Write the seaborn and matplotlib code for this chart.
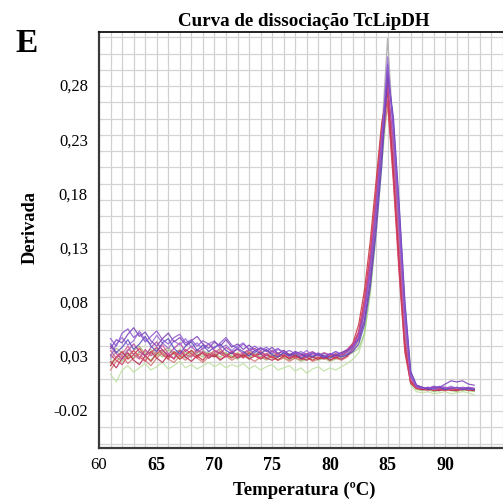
import numpy as np
import pandas as pd
import matplotlib
matplotlib.use("Agg")
import matplotlib.pyplot as plt
import seaborn as sns

# ---------------- data ----------------
# temperatures: 61.0 .. 92.5 in 0.5 steps (64 points)
temperature = [61.0, 61.5, 62.0, 62.5, 63.0, 63.5, 64.0, 64.5, 65.0, 65.5,
               66.0, 66.5, 67.0, 67.5, 68.0, 68.5, 69.0, 69.5, 70.0, 70.5,
               71.0, 71.5, 72.0, 72.5, 73.0, 73.5, 74.0, 74.5, 75.0, 75.5,
               76.0, 76.5, 77.0, 77.5, 78.0, 78.5, 79.0, 79.5, 80.0, 80.5,
               81.0, 81.5, 82.0, 82.5, 83.0, 83.5, 84.0, 84.5, 85.0, 85.5,
               86.0, 86.5, 87.0, 87.5, 88.0, 88.5, 89.0, 89.5, 90.0, 90.5,
               91.0, 91.5, 92.0, 92.5]

curve_purple1 = [0.045, 0.038, 0.050, 0.054, 0.046, 0.050, 0.042, 0.047, 0.052, 0.044,
                 0.040, 0.046, 0.049, 0.041, 0.044, 0.038, 0.043, 0.040, 0.036, 0.041,
                 0.046, 0.039, 0.036, 0.040, 0.035, 0.038, 0.034, 0.037, 0.033, 0.036,
                 0.032, 0.034, 0.031, 0.033, 0.030, 0.032, 0.029, 0.031, 0.030, 0.033,
                 0.031, 0.033, 0.037, 0.046, 0.070, 0.110, 0.165, 0.230, 0.298, 0.240,
                 0.160, 0.070, 0.012, 0.001, -0.001, 0.000, -0.001, 0.001, 0.000, -0.001,
                 0.000, -0.001, 0.000, -0.001]
curve_purple2 = [0.036, 0.044, 0.041, 0.049, 0.055, 0.047, 0.051, 0.043, 0.038, 0.045,
                 0.050, 0.042, 0.046, 0.039, 0.043, 0.047, 0.040, 0.036, 0.042, 0.038,
                 0.044, 0.037, 0.040, 0.035, 0.039, 0.034, 0.036, 0.033, 0.037, 0.031,
                 0.034, 0.030, 0.033, 0.031, 0.028, 0.032, 0.030, 0.027, 0.031, 0.029,
                 0.032, 0.034, 0.038, 0.044, 0.062, 0.098, 0.150, 0.215, 0.292, 0.245,
                 0.165, 0.075, 0.014, 0.002, 0.000, -0.001, 0.001, 0.000, 0.003, 0.006,
                 0.005, 0.006, 0.003, 0.002]
curve_violet = [0.028, 0.040, 0.046, 0.039, 0.043, 0.052, 0.044, 0.040, 0.048, 0.041,
                0.036, 0.043, 0.039, 0.045, 0.037, 0.041, 0.035, 0.040, 0.043, 0.036,
                0.039, 0.034, 0.038, 0.041, 0.035, 0.032, 0.037, 0.034, 0.031, 0.035,
                0.032, 0.029, 0.033, 0.030, 0.034, 0.029, 0.032, 0.028, 0.030, 0.033,
                0.029, 0.031, 0.035, 0.045, 0.068, 0.105, 0.160, 0.225, 0.305, 0.235,
                0.150, 0.060, 0.010, 0.001, -0.001, 0.000, -0.002, 0.000, -0.001, 0.001,
                -0.001, 0.000, -0.002, -0.001]
curve_bluepurple = [0.040, 0.032, 0.037, 0.044, 0.035, 0.040, 0.047, 0.038, 0.033, 0.041,
                    0.045, 0.036, 0.031, 0.038, 0.042, 0.034, 0.039, 0.033, 0.037, 0.040,
                    0.034, 0.031, 0.036, 0.033, 0.029, 0.034, 0.031, 0.035, 0.030, 0.028,
                    0.032, 0.029, 0.031, 0.027, 0.030, 0.028, 0.031, 0.029, 0.027, 0.030,
                    0.028, 0.030, 0.033, 0.040, 0.058, 0.092, 0.142, 0.205, 0.288, 0.250,
                    0.170, 0.080, 0.015, 0.002, 0.000, -0.002, -0.001, 0.000, -0.002, -0.001,
                    0.000, -0.002, -0.001, -0.002]
curve_red1 = [0.020, 0.028, 0.033, 0.026, 0.030, 0.036, 0.029, 0.024, 0.031, 0.035,
              0.028, 0.032, 0.026, 0.030, 0.034, 0.029, 0.025, 0.031, 0.028, 0.033,
              0.030, 0.027, 0.031, 0.028, 0.032, 0.029, 0.026, 0.030, 0.028, 0.025,
              0.029, 0.027, 0.030, 0.026, 0.028, 0.025, 0.028, 0.026, 0.029, 0.027,
              0.030, 0.034, 0.041, 0.058, 0.090, 0.135, 0.190, 0.245, 0.272, 0.195,
              0.110, 0.035, 0.004, -0.001, -0.002, -0.001, -0.003, -0.002, -0.001, -0.003,
              -0.002, -0.001, -0.003, -0.002]
curve_red2 = [0.024, 0.018, 0.027, 0.032, 0.025, 0.021, 0.029, 0.033, 0.027, 0.023,
              0.030, 0.026, 0.034, 0.028, 0.024, 0.029, 0.032, 0.027, 0.030, 0.025,
              0.029, 0.032, 0.027, 0.030, 0.026, 0.029, 0.031, 0.027, 0.025, 0.028,
              0.030, 0.026, 0.029, 0.027, 0.025, 0.028, 0.026, 0.029, 0.025, 0.028,
              0.026, 0.029, 0.036, 0.050, 0.080, 0.122, 0.178, 0.238, 0.280, 0.205,
              0.120, 0.042, 0.006, 0.000, -0.002, -0.001, -0.002, -0.003, -0.001, -0.002,
              -0.003, -0.001, -0.002, -0.003]
curve_crimson = [0.030, 0.025, 0.021, 0.029, 0.034, 0.028, 0.024, 0.032, 0.037, 0.030,
                 0.026, 0.033, 0.029, 0.035, 0.031, 0.027, 0.033, 0.029, 0.034, 0.031,
                 0.028, 0.033, 0.030, 0.027, 0.031, 0.029, 0.033, 0.030, 0.027, 0.031,
                 0.028, 0.030, 0.027, 0.029, 0.031, 0.028, 0.030, 0.027, 0.029, 0.031,
                 0.029, 0.033, 0.039, 0.052, 0.082, 0.125, 0.180, 0.240, 0.265, 0.190,
                 0.105, 0.032, 0.004, -0.001, -0.001, -0.002, -0.001, -0.002, -0.003, -0.001,
                 -0.002, -0.002, -0.001, -0.002]
curve_pink = [0.034, 0.027, 0.031, 0.038, 0.030, 0.026, 0.035, 0.029, 0.033, 0.039,
              0.031, 0.027, 0.034, 0.030, 0.028, 0.035, 0.031, 0.027, 0.032, 0.036,
              0.029, 0.033, 0.028, 0.032, 0.035, 0.030, 0.027, 0.031, 0.034, 0.029,
              0.031, 0.028, 0.032, 0.030, 0.027, 0.031, 0.029, 0.032, 0.030, 0.028,
              0.031, 0.033, 0.038, 0.049, 0.076, 0.118, 0.172, 0.232, 0.286, 0.215,
              0.130, 0.048, 0.007, 0.000, -0.001, 0.000, -0.002, -0.001, 0.000, -0.002,
              -0.001, 0.000, -0.001, -0.002]
curve_magenta = [0.038, 0.031, 0.026, 0.034, 0.040, 0.033, 0.029, 0.037, 0.042, 0.034,
                 0.030, 0.036, 0.041, 0.033, 0.038, 0.032, 0.036, 0.040, 0.034, 0.031,
                 0.037, 0.033, 0.035, 0.031, 0.034, 0.036, 0.032, 0.029, 0.033, 0.031,
                 0.034, 0.030, 0.032, 0.029, 0.031, 0.033, 0.030, 0.028, 0.031, 0.029,
                 0.032, 0.035, 0.040, 0.050, 0.074, 0.112, 0.165, 0.225, 0.278, 0.228,
                 0.148, 0.062, 0.010, 0.001, 0.000, -0.001, 0.000, -0.002, -0.001, 0.000,
                 -0.001, -0.002, 0.000, -0.001]
curve_salmon = [0.016, 0.024, 0.029, 0.022, 0.027, 0.031, 0.025, 0.020, 0.027, 0.032,
                0.026, 0.023, 0.029, 0.025, 0.030, 0.027, 0.023, 0.028, 0.031, 0.026,
                0.029, 0.025, 0.028, 0.031, 0.027, 0.024, 0.028, 0.026, 0.029, 0.025,
                0.027, 0.024, 0.027, 0.025, 0.028, 0.024, 0.026, 0.028, 0.025, 0.027,
                0.025, 0.028, 0.034, 0.046, 0.072, 0.112, 0.165, 0.222, 0.260, 0.200,
                0.115, 0.038, 0.005, -0.001, -0.002, -0.003, -0.002, -0.001, -0.003, -0.002,
                -0.003, -0.002, -0.001, -0.003]
curve_lightgreen = [0.012, 0.005, 0.016, 0.020, 0.014, 0.018, 0.022, 0.016, 0.019, 0.023,
                    0.017, 0.020, 0.024, 0.018, 0.021, 0.017, 0.020, 0.023, 0.019, 0.022,
                    0.018, 0.021, 0.019, 0.022, 0.017, 0.020, 0.016, 0.019, 0.021, 0.016,
                    0.018, 0.020, 0.015, 0.018, 0.013, 0.017, 0.019, 0.015, 0.018, 0.016,
                    0.019, 0.022, 0.026, 0.032, 0.048, 0.085, 0.140, 0.205, 0.262, 0.215,
                    0.135, 0.050, 0.002, -0.004, -0.005, -0.004, -0.006, -0.005, -0.004, -0.006,
                    -0.005, -0.004, -0.005, -0.007]
curve_green = [0.022, 0.028, 0.024, 0.031, 0.027, 0.033, 0.029, 0.025, 0.032, 0.028,
               0.035, 0.030, 0.026, 0.033, 0.029, 0.034, 0.030, 0.027, 0.031, 0.028,
               0.032, 0.029, 0.026, 0.030, 0.027, 0.031, 0.028, 0.025, 0.029, 0.026,
               0.028, 0.025, 0.027, 0.024, 0.026, 0.028, 0.025, 0.027, 0.024, 0.026,
               0.028, 0.030, 0.032, 0.036, 0.050, 0.090, 0.148, 0.212, 0.275, 0.222,
               0.140, 0.055, 0.004, -0.002, -0.003, -0.002, -0.004, -0.003, -0.002, -0.003,
               -0.004, -0.002, -0.003, -0.004]
curve_olive = [0.030, 0.036, 0.032, 0.027, 0.034, 0.038, 0.031, 0.035, 0.029, 0.033,
               0.037, 0.031, 0.035, 0.030, 0.034, 0.031, 0.028, 0.033, 0.030, 0.035,
               0.031, 0.028, 0.032, 0.029, 0.033, 0.030, 0.027, 0.031, 0.029, 0.032,
               0.028, 0.031, 0.029, 0.026, 0.030, 0.028, 0.031, 0.029, 0.027, 0.030,
               0.029, 0.031, 0.034, 0.042, 0.062, 0.100, 0.155, 0.218, 0.282, 0.210,
               0.125, 0.045, 0.006, -0.001, -0.002, -0.001, -0.002, -0.003, -0.002, -0.001,
               -0.002, -0.003, -0.002, -0.001]
curve_gray = [0.026, 0.033, 0.029, 0.035, 0.031, 0.027, 0.034, 0.030, 0.036, 0.032,
              0.028, 0.033, 0.030, 0.027, 0.032, 0.029, 0.034, 0.031, 0.028, 0.032,
              0.030, 0.033, 0.029, 0.031, 0.028, 0.032, 0.030, 0.027, 0.031, 0.029,
              0.032, 0.030, 0.028, 0.031, 0.029, 0.027, 0.030, 0.032, 0.029, 0.031,
              0.030, 0.032, 0.036, 0.045, 0.068, 0.108, 0.165, 0.235, 0.322, 0.235,
              0.145, 0.055, 0.008, 0.000, -0.001, -0.002, -0.001, 0.000, -0.002, -0.001,
              -0.002, 0.000, -0.001, -0.002]

curves = {
    "gray": curve_gray,
    "lightgreen": curve_lightgreen,
    "green": curve_green,
    "olive": curve_olive,
    "salmon": curve_salmon,
    "red1": curve_red1,
    "red2": curve_red2,
    "crimson": curve_crimson,
    "pink": curve_pink,
    "magenta": curve_magenta,
    "violet": curve_violet,
    "bluepurple": curve_bluepurple,
    "purple2": curve_purple2,
    "purple1": curve_purple1,
}
curve_colors = {
    "gray": "#a8a8a8",
    "lightgreen": "#bfe0a0",
    "green": "#9cc87c",
    "olive": "#b0b478",
    "salmon": "#d87474",
    "red1": "#c8303c",
    "red2": "#b82850",
    "crimson": "#d44060",
    "pink": "#d0558e",
    "magenta": "#b8449e",
    "violet": "#9a6ad8",
    "bluepurple": "#5c48bc",
    "purple2": "#7a3fb8",
    "purple1": "#8b55d0",
}

ytick_values = [-0.02, 0.03, 0.08, 0.13, 0.18, 0.23, 0.28]
ytick_labels = ["-0.02", "0,03", "0,08", "0,13", "0,18", "0,23", "0,28"]
xtick_values = [60, 65, 70, 75, 80, 85, 90]
xtick_labels = ["60", "65", "70", "75", "80", "85", "90"]

# ---------------- plot ----------------
rows = []
for name, vals in curves.items():
    for t, v in zip(temperature, vals):
        rows.append((name, t, v))
df = pd.DataFrame(rows, columns=["curve", "T", "deriv"])

plt.rcParams["font.family"] = ["Liberation Serif", "DejaVu Serif"]

W, H = 503, 502
fig = plt.figure(figsize=(W / 100, H / 100), dpi=100)
ax = fig.add_axes([99 / W, 1 - 449 / H, (W - 99) / W, (449 - 33) / H])

ax.set_xlim(60.17, 95.0)
ax.set_ylim(-0.056, 0.328)

# background grid
for x in np.arange(61.0, 95.1, 1.0):
    ax.axvline(x, color="#d0d0d0", lw=0.9, zorder=0)
for y in np.arange(-0.052, 0.33, 0.015):
    ax.axhline(y, color="#d4d4d4", lw=0.9, zorder=0)

sns.lineplot(data=df, x="T", y="deriv", hue="curve", palette=curve_colors,
             hue_order=list(curves.keys()), estimator=None, sort=True,
             legend=False, linewidth=0.9, alpha=0.85, ax=ax, zorder=2)

ax.set_xticks(xtick_values)
ax.set_xticklabels(xtick_labels)
ax.set_yticks(ytick_values)
ax.set_yticklabels(ytick_labels)
ax.tick_params(axis="both", length=0)
ax.tick_params(axis="y", labelsize=12, pad=8)
ax.tick_params(axis="x", labelsize=13, pad=6)
for lab in ax.get_xticklabels():
    if lab.get_text() == "60":
        lab.set_fontweight("normal")
        lab.set_fontsize(12)
    else:
        lab.set_fontweight("bold")

ax.set_xlabel("")
ax.set_ylabel("")

ax.spines["right"].set_visible(False)
ax.spines["left"].set_color("#3a3a3a")
ax.spines["left"].set_linewidth(1.6)
ax.spines["bottom"].set_color("#3a3a3a")
ax.spines["bottom"].set_linewidth(1.6)
ax.spines["top"].set_color("#111111")
ax.spines["top"].set_linewidth(1.3)

fig.text(304 / W, 1 - 21 / H, "Curva de dissociação TcLipDH", ha="center",
         va="center", fontsize=13.7, fontweight="bold")
fig.text(304 / W, 1 - 490 / H, "Temperatura (ºC)", ha="center", va="center",
         fontsize=13.5, fontweight="bold")
fig.text(30 / W, 1 - 228 / H, "Derivada", ha="center", va="center",
         rotation=90, fontsize=13.3, fontweight="bold")
fig.text(15 / W, 1 - 44 / H, "E", ha="left", va="center",
         fontsize=24, fontweight="bold")

fig.savefig("out.png", dpi=100)
